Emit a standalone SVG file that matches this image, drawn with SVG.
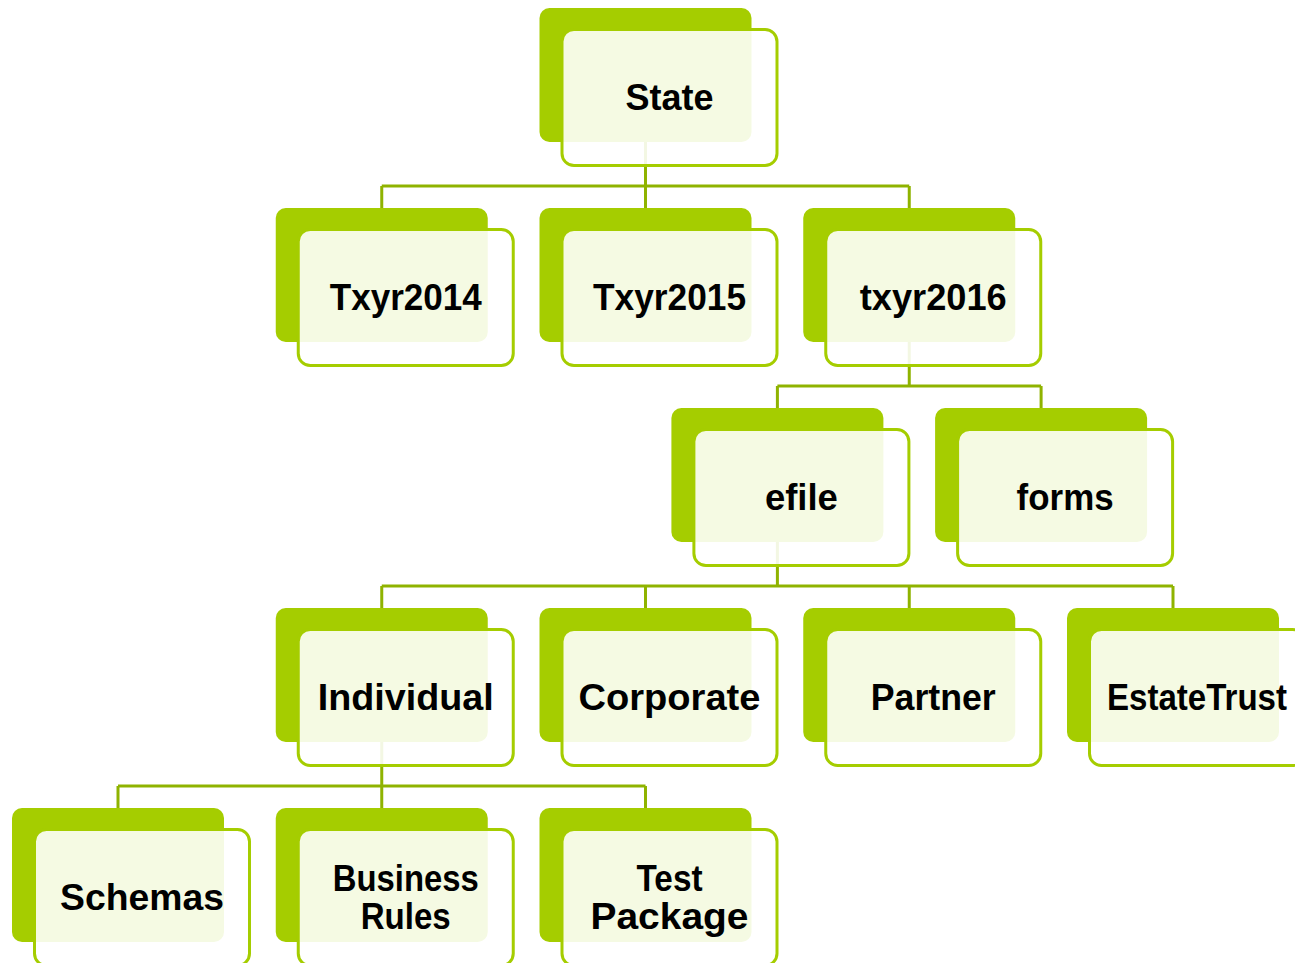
<svg xmlns="http://www.w3.org/2000/svg" width="1295" height="963" viewBox="0 0 1295 963">
<style>
.back{fill:#A5CD00}
.front{fill:#FFFFFF;fill-opacity:0.89;stroke:#A5CD00;stroke-width:3}
.lbl{font-family:"Liberation Sans",Arial,sans-serif;font-weight:bold;font-size:37px;fill:#000;text-anchor:middle}
.conn{fill:none;stroke:#8FB300;stroke-width:3}
</style>
<defs>
<g id="box">
<rect class="back" x="0" y="0" width="212" height="134" rx="10"/>
<rect class="front" x="22.5" y="21.5" width="215" height="136" rx="12"/>
</g>
</defs>
<rect width="1295" height="963" fill="#FFFFFF"/>
<g id="connectors">
<path class="conn" d="M645.5 142V186M381.75 186H909.25M381.75 186V208M645.5 186V208M909.25 186V208"/>
<path class="conn" d="M909.25 342V386M777.4 386H1041.1M777.4 386V408M1041.1 386V408"/>
<path class="conn" d="M777.4 542V586M381.75 586H1173M381.75 586V608M645.5 586V608M909.25 586V608M1173 586V608"/>
<path class="conn" d="M381.75 742V786M118 786H645.5M118 786V808M381.75 786V808M645.5 786V808"/>
</g>
<g id="node-state" transform="translate(539.5,8)"><use href="#box"/><text class="lbl" x="130" y="102" textLength="88" lengthAdjust="spacingAndGlyphs">State</text></g>
<g id="node-txyr2014" transform="translate(275.75,208)"><use href="#box"/><text class="lbl" x="130" y="102" textLength="152" lengthAdjust="spacingAndGlyphs">Txyr2014</text></g>
<g id="node-txyr2015" transform="translate(539.5,208)"><use href="#box"/><text class="lbl" x="130" y="102" textLength="153" lengthAdjust="spacingAndGlyphs">Txyr2015</text></g>
<g id="node-txyr2016" transform="translate(803.25,208)"><use href="#box"/><text class="lbl" x="130" y="102" textLength="147" lengthAdjust="spacingAndGlyphs">txyr2016</text></g>
<g id="node-efile" transform="translate(671.4,408)"><use href="#box"/><text class="lbl" x="130" y="102" textLength="73" lengthAdjust="spacingAndGlyphs">efile</text></g>
<g id="node-forms" transform="translate(935.1,408)"><use href="#box"/><text class="lbl" x="130" y="102" textLength="97" lengthAdjust="spacingAndGlyphs">forms</text></g>
<g id="node-individual" transform="translate(275.75,608)"><use href="#box"/><text class="lbl" x="130" y="102" textLength="176" lengthAdjust="spacingAndGlyphs">Individual</text></g>
<g id="node-corporate" transform="translate(539.5,608)"><use href="#box"/><text class="lbl" x="130" y="102" textLength="182" lengthAdjust="spacingAndGlyphs">Corporate</text></g>
<g id="node-partner" transform="translate(803.25,608)"><use href="#box"/><text class="lbl" x="130" y="102" textLength="125" lengthAdjust="spacingAndGlyphs">Partner</text></g>
<g id="node-estatetrust" transform="translate(1067,608)"><use href="#box"/><text class="lbl" x="130" y="102" textLength="180" lengthAdjust="spacingAndGlyphs">EstateTrust</text></g>
<g id="node-schemas" transform="translate(12,808)"><use href="#box"/><text class="lbl" x="130" y="102" textLength="164" lengthAdjust="spacingAndGlyphs">Schemas</text></g>
<g id="node-businessrules" transform="translate(275.75,808)"><use href="#box"/><text class="lbl" x="130" y="83" textLength="146" lengthAdjust="spacingAndGlyphs">Business</text><text class="lbl" x="130" y="121" textLength="90" lengthAdjust="spacingAndGlyphs">Rules</text></g>
<g id="node-testpackage" transform="translate(539.5,808)"><use href="#box"/><text class="lbl" x="130" y="83" textLength="66" lengthAdjust="spacingAndGlyphs">Test</text><text class="lbl" x="130" y="121" textLength="158" lengthAdjust="spacingAndGlyphs">Package</text></g>
</svg>
